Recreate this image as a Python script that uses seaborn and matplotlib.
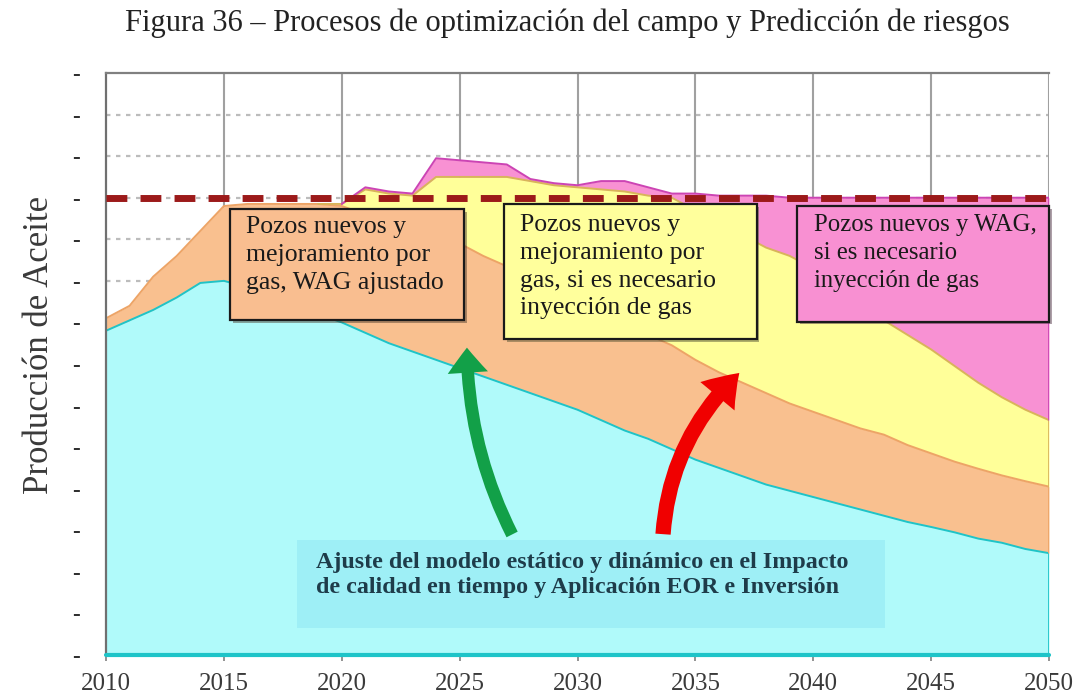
import matplotlib.pyplot as plt
import matplotlib.patches as mpatches
import matplotlib.patheffects as pe
import numpy as np
import seaborn as sns

# years on the x axis
years = list(range(2010, 2051))

# cumulative tops of each stacked band
base_top = [7.8, 8.05, 8.3, 8.6, 8.95, 9.0, 8.85, 8.65, 8.45, 8.2,
            8.0, 7.75, 7.5, 7.3, 7.1, 6.9, 6.7, 6.5, 6.3, 6.1,
            5.9, 5.65, 5.4, 5.2, 4.95, 4.7, 4.5, 4.3, 4.1, 3.95,
            3.8, 3.65, 3.5, 3.35, 3.2, 3.08, 2.95, 2.8, 2.7, 2.55, 2.45]
wells_top = [8.1, 8.4, 9.1, 9.6, 10.2, 10.8, 10.85, 10.85, 10.85, 10.85,
             10.8, 10.6, 10.4, 10.2, 10.05, 9.9, 9.6, 9.35, 9.05, 8.8,
             8.5, 8.25, 7.95, 7.7, 7.45, 7.1, 6.8, 6.55, 6.3, 6.05,
             5.85, 5.65, 5.45, 5.3, 5.05, 4.85, 4.65, 4.48, 4.32, 4.18, 4.05]
gas_top = [8.1, 8.4, 9.1, 9.6, 10.2, 10.8, 10.85, 10.85, 10.85, 10.85,
           10.85, 11.2, 11.1, 11.05, 11.5, 11.5, 11.5, 11.5, 11.4, 11.3,
           11.25, 11.2, 11.15, 11.05, 11.0, 10.7, 10.4, 10.1, 9.8, 9.6,
           9.3, 8.9, 8.5, 8.05, 7.7, 7.35, 6.95, 6.55, 6.2, 5.9, 5.65]
wag_top = [8.1, 8.4, 9.1, 9.6, 10.2, 10.8, 10.85, 10.85, 10.85, 10.85,
           10.85, 11.25, 11.15, 11.1, 11.95, 11.9, 11.85, 11.8, 11.45, 11.35,
           11.3, 11.4, 11.4, 11.25, 11.1, 11.1, 11.05, 11.05, 11.05, 11.0,
           11.0, 11.0, 11.0, 11.0, 11.0, 11.0, 11.0, 11.0, 11.0, 11.0, 11.0]
target_level = 11.0

x_ticks = [2010, 2015, 2020, 2025, 2030, 2035, 2040, 2045, 2050]
y_ticks = list(range(0, 15))

title = "Figura 36 – Procesos de optimización del campo y Predicción de riesgos"
y_label = "Producción de Aceite"
txt_wells = "Pozos nuevos y\nmejoramiento por\ngas, WAG ajustado"
txt_gas = "Pozos nuevos y\nmejoramiento por\ngas, si es necesario\ninyección de gas"
txt_wag = "Pozos nuevos y WAG,\nsi es necesario\ninyección de gas"
txt_base = ("Ajuste del modelo estático y dinámico en el Impacto\n"
            "de calidad en tiempo y Aplicación EOR e Inversión")

sns.set_theme(style="white")
plt.rcParams['font.family'] = ['Liberation Serif', 'DejaVu Serif']

fig = plt.figure(figsize=(10.76, 6.96), dpi=100)
ax = fig.add_axes([106 / 1076, 1 - 655 / 696, 943 / 1076, 582 / 696])

zeros = [0.0] * len(years)
layers = [
    (zeros, base_top, '#b0fafa', '#1ec4c8'),
    (base_top, wells_top, '#f9c08f', '#eda466'),
    (wells_top, gas_top, '#ffff99', '#d9b45a'),
    (gas_top, wag_top, '#f891d3', '#cc44b4'),
]


def visible(top, below):
    t = np.array(top)
    b = np.array(below)
    thick = (t - b) > 1e-6
    show = thick | np.r_[thick[1:], False] | np.r_[False, thick[:-1]]
    return np.where(show, t, np.nan)


for below, top, fill, edge in layers:
    ax.fill_between(years, below, top, color=fill, lw=0, zorder=1)
for below, top, fill, edge in layers:
    sns.lineplot(x=years, y=visible(top, below), color=edge, lw=1.4,
                 ax=ax, zorder=2)
    ax.vlines(years[-1], below[-1], top[-1], color=edge, lw=2, zorder=2)

ax.axhline(0, color='#1ec4c8', lw=3, zorder=3, clip_on=False)
ax.axhline(target_level, color='#9c1a1a', lw=5, dashes=(3, 1.9), zorder=3)

# grid
ax.set_axisbelow(True)
for yy in y_ticks[1:-1]:
    ax.axhline(yy, color='#bcbcbc', lw=1.6, ls=(0, (2, 2.5)), zorder=0)
for xx in x_ticks[1:]:
    ax.axvline(xx, color='#a0a0a0', lw=1.5, zorder=0)

ax.set_xlim(2010, 2050)
ax.set_ylim(0, 14)
ax.set_xticks(x_ticks)
ax.set_xticklabels([str(v) for v in x_ticks], fontsize=18, color='#3a3a3a')
ax.set_yticks(y_ticks)
ax.set_yticklabels(['–'] * len(y_ticks), fontsize=11, color='#303030',
                   family='DejaVu Sans', fontweight='bold')
ax.tick_params(axis='y', length=0, pad=19)
ax.tick_params(axis='x', direction='out', length=4, width=1.2,
               color='#808080', pad=9, bottom=True)
for side in ['right', 'bottom']:
    ax.spines[side].set_visible(False)
ax.spines['left'].set_color('#707070')
ax.spines['left'].set_linewidth(1.6)
ax.spines['top'].set_color('#808080')
ax.spines['top'].set_linewidth(1.6)

shadow = [pe.SimplePatchShadow(offset=(2, -2), alpha=0.45)]


def box(x0, y0, x1, y1, fc, text, tx, ty, size=18.5):
    r = mpatches.Rectangle((x0, y0), x1 - x0, y1 - y0, fc=fc, ec='#1a1a1a',
                           lw=1.6, zorder=5, clip_on=False,
                           path_effects=shadow + [pe.Normal()])
    ax.add_patch(r)
    ax.text(tx, ty, text, fontsize=size, color='#1a1a1a', ha='left',
            va='top', linespacing=1.33, zorder=6)


box(2015.25, 8.05, 2025.2, 10.72, '#f9be90', txt_wells, 2015.95, 10.55)
box(2026.9, 7.6, 2037.6, 10.85, '#ffff9c', txt_gas, 2027.55, 10.6)
box(2039.3, 8.02, 2050.0, 10.8, '#f890d2', txt_wag, 2040.05, 10.6, 17.8)

ax.add_patch(mpatches.Rectangle((2018.1, 0.65), 24.95, 2.12, fc='#9eeff6',
                                lw=0, zorder=5))
ax.text(2018.9, 2.48, txt_base, fontsize=17.3, fontweight='bold',
        color='#1e3c4a', ha='left', va='top', linespacing=1.28, zorder=6)

# arrows
green = mpatches.FancyArrowPatch(
    (2027.28, 2.84), (2025.31, 7.46), connectionstyle="arc3,rad=-0.12",
    arrowstyle="simple,head_width=29,head_length=18,tail_width=9",
    color='#12a048', lw=0, zorder=7)
red = mpatches.FancyArrowPatch(
    (2033.62, 2.84), (2036.95, 6.83), connectionstyle="arc3,rad=-0.2",
    arrowstyle="simple,head_width=32,head_length=23,tail_width=11",
    color='#f00000', lw=0, zorder=7)
ax.add_patch(green)
ax.add_patch(red)

fig.text(0.527, 0.966, title, ha='center', va='center', fontsize=22,
         color='#222222')
fig.text(40 / 1076, 1 - 345 / 696, y_label, rotation=90, ha='center',
         va='center', fontsize=25, color='#3a3a3a')

fig.savefig('out.png', dpi=100)
